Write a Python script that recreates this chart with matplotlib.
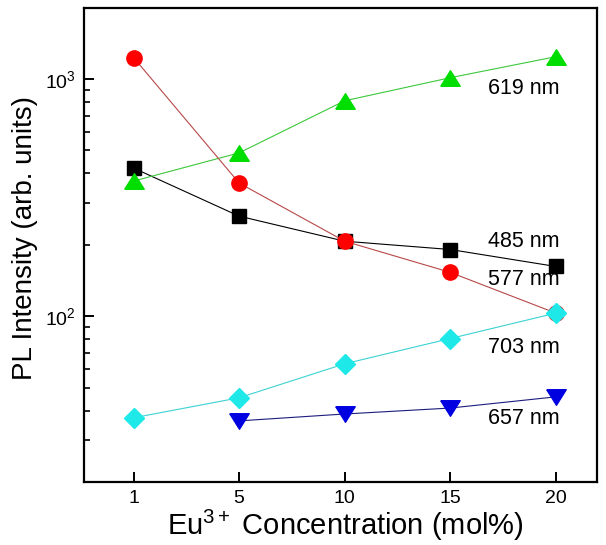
import numpy as np
import matplotlib
matplotlib.use('Agg')
import matplotlib.pyplot as plt
from matplotlib.ticker import LogLocator, NullFormatter

plt.rcParams['font.family'] = ['Liberation Sans', 'DejaVu Sans']
plt.rcParams['mathtext.fontset'] = 'custom'
plt.rcParams['mathtext.rm'] = 'Liberation Sans'
plt.rcParams['mathtext.it'] = 'Liberation Sans:italic'
plt.rcParams['mathtext.bf'] = 'Liberation Sans:bold'

conc = ['1', '5', '10', '15', '20']
nm485 = [421, 264, 207, 191, 162]
nm577 = [1230, 364, 207, 153, 103]
nm619 = [371, 488, 809, 1012, 1241]
nm703 = [37.3, 45.3, 63, 80.5, 103]
nm657 = [36.2, 38.7, 41, 45.7]   # no point at 1 mol%

x = np.arange(len(conc))

up_tri = [(-1, -0.8), (1, -0.8), (0, 0.8), (-1, -0.8)]
down_tri = [(-1, 0.8), (1, 0.8), (0, -0.8), (-1, 0.8)]

fig = plt.figure(figsize=(6.06, 5.45), dpi=100)
ax = fig.add_axes([0.1386, 0.1156, 0.8465, 0.8706])

ax.plot(x, nm485, color='black', lw=0.8, marker='s', ms=10, mfc='black', mec='black')
ax.plot(x, nm619, color='#3cc83c', lw=0.8, marker=up_tri, ms=14, mfc='#00dd00', mec='#00dd00')
ax.plot(x, nm577, color='#b84848', lw=0.8, marker='o', ms=11, mfc='#ff0000', mec='#ff0000')
ax.plot(x, nm703, color='#3cd2d2', lw=0.8, marker='D', ms=10, mfc='#1ee8e8', mec='#1ee8e8')
ax.plot(x[1:], nm657, color='#1c1c80', lw=0.8, marker=down_tri, ms=14, mfc='#0000e0', mec='#0000e0')

ax.set_yscale('log')
ax.set_ylim(20, 2000)
ax.set_xlim(-0.47, 4.39)
ax.set_xticks(x)
ax.set_xticklabels(conc)
ax.yaxis.set_major_locator(LogLocator(base=10))
ax.yaxis.set_minor_locator(LogLocator(base=10, subs=np.arange(2, 10)))
ax.yaxis.set_minor_formatter(NullFormatter())

for s in ax.spines.values():
    s.set_linewidth(1.6)
ax.tick_params(axis='both', which='both', direction='in', top=False, right=False)
ax.tick_params(axis='both', which='major', length=7, width=1.4, labelsize=14, pad=6)
ax.tick_params(axis='y', which='minor', length=4.5, width=1.2)

lab_x = 3.36
ax.text(lab_x, 909, '619 nm', fontsize=15.5, va='center', ha='left')
ax.text(lab_x, 207, '485 nm', fontsize=15.5, va='center', ha='left')
ax.text(lab_x, 143, '577 nm', fontsize=15.5, va='center', ha='left')
ax.text(lab_x, 73.7, '703 nm', fontsize=15.5, va='center', ha='left')
ax.text(lab_x, 36.9, '657 nm', fontsize=15.5, va='center', ha='left')

ax.set_xlabel('Eu$^{\\mathrm{3+}}$ Concentration (mol%)', fontsize=21)
ax.set_ylabel('PL Intensity (arb. units)', fontsize=20)
ax.xaxis.set_label_coords(0.51, -0.055)
ax.yaxis.set_label_coords(-0.09, 0.515)

fig.savefig('out.png', dpi=100)
